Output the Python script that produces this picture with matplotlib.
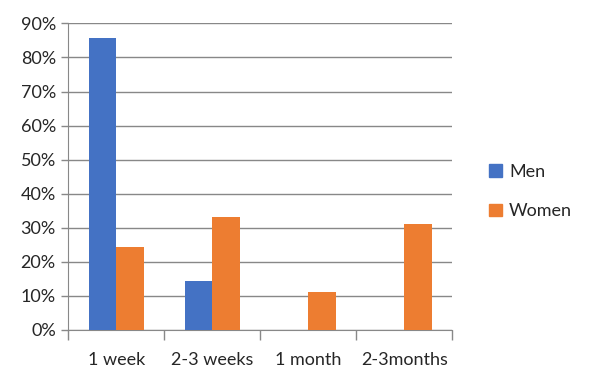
import matplotlib
matplotlib.use("Agg")
import matplotlib.pyplot as plt
import numpy as np
from matplotlib.patches import Patch

categories = ["1 week", "2-3 weeks", "1 month", "2-3months"]
men = [85.7, 14.3, 0, 0]
women = [24.4, 33.3, 11.1, 31.1]
yticks = [0, 10, 20, 30, 40, 50, 60, 70, 80, 90]

plt.rcParams['font.family'] = ['Lato', 'DejaVu Sans']

fig = plt.figure(figsize=(5.91, 3.83), dpi=100)
ax = fig.add_axes([0.1156, 0.1384, 0.6497, 0.8006])

x = np.arange(len(categories))
w = 0.287
ax.bar(x - w/2, men, width=w, color="#4472C4", zorder=3)
ax.bar(x + w/2, women, width=w, color="#ED7D31", zorder=3)

ax.set_xlim(-0.5, len(categories) - 0.5)
ax.set_ylim(0, 90)
ax.set_yticks(yticks)
ax.set_yticklabels([f"{v}%" for v in yticks], fontsize=13, color="#262626")
ax.yaxis.grid(True, color="#888888", linewidth=1.0, zorder=0)
ax.set_axisbelow(True)

# category boundaries as ticks
ax.set_xticks(np.arange(-0.5, len(categories), 1.0))
ax.set_xticklabels([])
ax.tick_params(axis='x', length=7, color="#888888", width=1.0)
ax.set_xticks(x, minor=True)
ax.set_xticklabels(categories, minor=True, fontsize=13, color="#262626")
ax.tick_params(axis='x', which='minor', length=0, pad=16)
ax.tick_params(axis='y', length=5, color="#888888", width=1.0, pad=4)

for s in ["top", "right"]:
    ax.spines[s].set_visible(False)
ax.spines["left"].set_color("#888888")
ax.spines["bottom"].set_color("#888888")

handles = [Patch(color="#4472C4", label="Men"), Patch(color="#ED7D31", label="Women")]
fig.legend(handles=handles, loc="center left", bbox_to_anchor=(0.8, 0.5),
           frameon=False, fontsize=13, handlelength=0.7, handleheight=0.7,
           handletextpad=0.4, labelspacing=1.3, labelcolor="#262626")

fig.savefig("out.png", dpi=100)
